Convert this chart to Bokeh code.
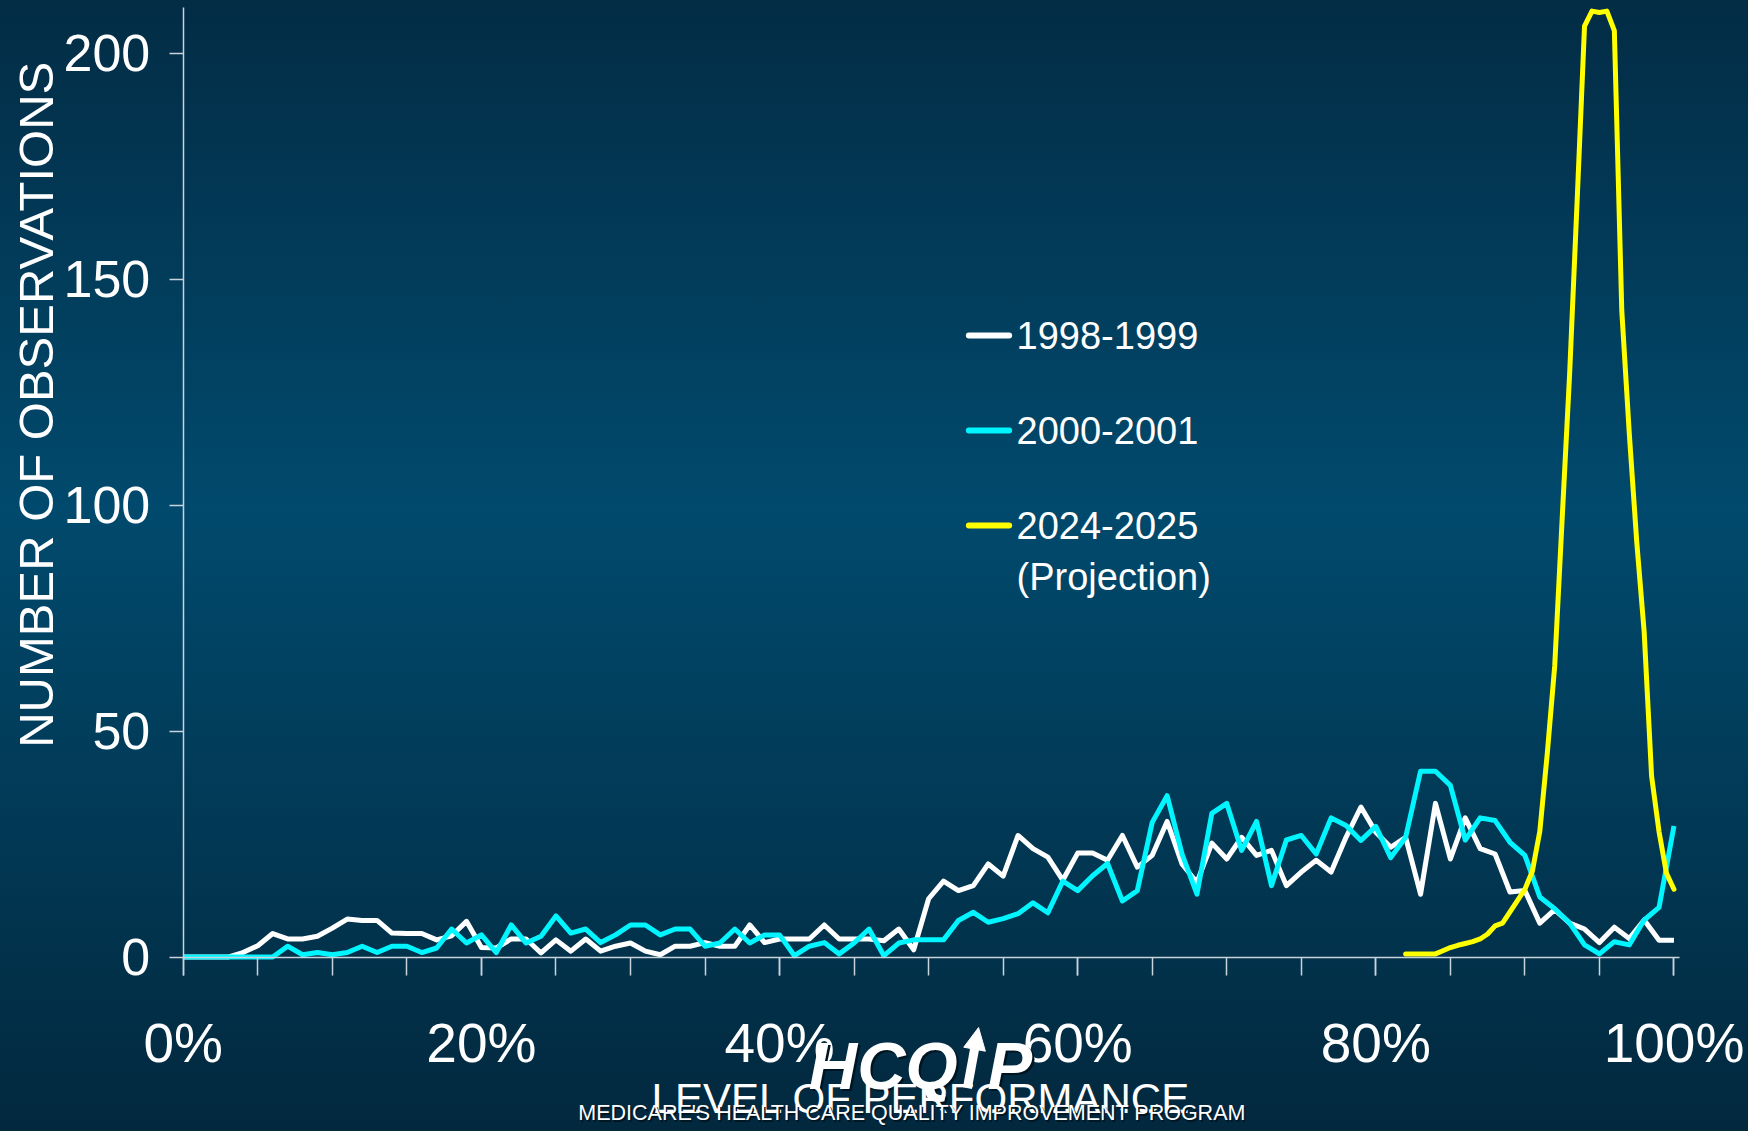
import math

from bokeh.embed import file_html
from bokeh.models import Arrow, FixedTicker, Label, NormalHead, Range1d
from bokeh.plotting import figure
from bokeh.resources import INLINE

# ---------------------------------------------------------------- data
performance = list(range(0, 101))  # level of performance, %

obs_1998_1999 = [
    0, 0, 0, 0, 1.0, 2.5, 5.2, 4.0, 4.0, 4.6,
    6.4, 8.4, 8.1, 8.1, 5.3, 5.2, 5.2, 3.8, 4.7, 7.9,
    2.1, 2.0, 4.0, 4.0, 0.9, 3.8, 1.3, 4.0, 1.3, 2.4,
    3.1, 1.3, 0.5, 2.4, 2.4, 3.2, 2.4, 2.4, 7.1, 3.2,
    4.0, 4.0, 4.0, 7.1, 4.0, 4.0, 4.0, 3.6, 6.2, 1.6,
    12.9, 16.8, 14.7, 15.8, 20.6, 17.9, 26.9, 24.0, 22.1, 17.0,
    23.0, 23.0, 21.4, 26.9, 19.9, 22.5, 30.0, 20.6, 16.5, 25.2,
    21.7, 26.5, 22.5, 23.6, 15.8, 18.8, 21.4, 18.8, 26.5, 33.2,
    27.6, 24.3, 26.5, 13.9, 34.0, 21.7, 30.8, 24.0, 22.8, 14.4,
    14.7, 7.5, 10.5, 7.5, 6.2, 3.2, 6.6, 4.1, 8.2, 3.7,
    3.7,
]

obs_2000_2001 = [
    0, 0, 0, 0, 0, 0, 0, 2.4, 0.5, 1.0,
    0.5, 1.0, 2.4, 1.0, 2.4, 2.4, 1.0, 2.0, 6.2, 3.1,
    4.9, 1.0, 7.1, 3.1, 4.6, 9.1, 5.3, 6.2, 3.2, 4.9,
    7.1, 7.1, 4.9, 6.2, 6.2, 2.4, 3.1, 6.2, 3.1, 4.9,
    4.9, 0.3, 2.4, 3.2, 0.7, 3.1, 6.2, 0.3, 3.1, 3.8,
    3.8, 3.8, 8.1, 9.9, 7.7, 8.5, 9.6, 12.0, 9.8, 16.8,
    14.7, 18.0, 20.7, 12.4, 14.7, 29.8, 35.7, 22.8, 13.9, 31.8,
    34.0, 23.6, 30.0, 15.8, 25.9, 26.9, 22.8, 30.8, 29.1, 25.8,
    28.9, 22.0, 26.5, 41.1, 41.1, 38.0, 25.9, 30.8, 30.2, 25.4,
    22.5, 13.3, 10.7, 7.5, 2.7, 0.7, 3.4, 2.7, 8.2, 11.0,
    29.0,
]

projection_performance = [
    82.0, 82.5, 83.0, 83.5, 84.0, 84.5, 85.0, 85.5, 86.0, 86.5,
    87.0, 87.5, 88.0, 88.5, 89.0, 89.5, 90.0, 90.5, 91.0, 91.5,
    92.0, 92.5, 93.0, 93.5, 94.0, 94.5, 95.0, 95.5, 96.0, 96.5,
    97.0, 97.5, 98.0, 98.5, 99.0, 99.5, 100.0,
]
obs_2024_2025 = [
    0.7, 0.7, 0.7, 0.7, 0.7, 1.4, 2.1, 2.6, 3.0, 3.4,
    4.0, 5.1, 6.9, 7.5, 10.0, 12.5, 15.0, 19.0, 27.8, 45.0,
    64.4, 97.0, 129.0, 167.0, 206.0, 209.3, 209.0, 209.3, 205.0, 143.0,
    116.0, 92.0, 72.0, 40.0, 27.7, 18.5, 15.0,
]

series_labels = ["1998-1999", "2000-2001", "2024-2025"]
projection_note = "(Projection)"

x_ticks = [0, 20, 40, 60, 80, 100]
x_minor_ticks = list(range(0, 101, 5))
y_ticks = [0, 50, 100, 150, 200]

# ---------------------------------------------------------------- styles
FONT = "Liberation Sans"
AXIS_COLOR = "#c9d3dc"
SERIES_COLORS = ["#ffffff", "#00f5ff", "#ffff00"]
LINE_W = 5
SHADOW = "#001522"

# the frame fills the page; the axes sit at the data origin
X_VIEW = (-12.26, 105.0)
Y_VIEW = (-38.6, 211.65)
X_AXIS_SPAN = (0, 100.4)
Y_AXIS_SPAN = (0, 210)

# legend block, in data units
LEGEND_X0, LEGEND_X1 = 52.7, 55.4
LEGEND_TEXT_X = 55.9
LEGEND_ROWS = [137.5, 116.5, 95.5]
PROJECTION_ROW = 84.0

p = figure(
    width=1748, height=1131,
    output_backend="svg", toolbar_location=None,
    x_range=Range1d(*X_VIEW), y_range=Range1d(*Y_VIEW),
    min_border=0,
)
p.border_fill_color = None
p.background_fill_color = None
p.outline_line_color = None
p.xgrid.visible = False
p.ygrid.visible = False
p.styles = {
    "background": "linear-gradient(180deg, #032c45 0%, #014a6d 45%, #02283e 100%)"
}

# x axis: percent labels every 20, ticks every 5
xa = p.xaxis[0]
xa.fixed_location = 0
xa.bounds = X_AXIS_SPAN
xa.ticker = FixedTicker(ticks=x_ticks, minor_ticks=x_minor_ticks)
xa.major_label_overrides = {t: f"{t}%" for t in x_ticks}
xa.axis_line_color = AXIS_COLOR
xa.axis_line_width = 1.5
xa.major_tick_line_color = AXIS_COLOR
xa.minor_tick_line_color = AXIS_COLOR
xa.major_tick_line_width = 1.5
xa.minor_tick_line_width = 1.5
xa.major_tick_in = 0
xa.major_tick_out = 18
xa.minor_tick_in = 0
xa.minor_tick_out = 18
xa.major_label_text_font = FONT
xa.major_label_text_font_size = "55px"
xa.major_label_text_color = "white"
xa.major_label_standoff = 37

# y axis
ya = p.yaxis[0]
ya.fixed_location = 0
ya.bounds = Y_AXIS_SPAN
ya.ticker = FixedTicker(ticks=y_ticks)
ya.axis_line_color = AXIS_COLOR
ya.axis_line_width = 1.5
ya.major_tick_line_color = AXIS_COLOR
ya.major_tick_line_width = 1.5
ya.major_tick_in = 0
ya.major_tick_out = 14
ya.minor_tick_out = 0
ya.minor_tick_in = 0
ya.major_label_text_font = FONT
ya.major_label_text_font_size = "52px"
ya.major_label_text_color = "white"
ya.major_label_standoff = 19

# ---------------------------------------------------------------- series
p.line(performance, obs_1998_1999, line_color=SERIES_COLORS[0],
       line_width=LINE_W, line_join="round")
p.line(performance, obs_2000_2001, line_color=SERIES_COLORS[1],
       line_width=LINE_W, line_join="round")
p.line(projection_performance, obs_2024_2025, line_color=SERIES_COLORS[2],
       line_width=LINE_W, line_join="round", line_cap="round")

# ---------------------------------------------------------------- legend
for label, color, row in zip(series_labels, SERIES_COLORS, LEGEND_ROWS):
    p.line([LEGEND_X0, LEGEND_X1], [row, row], line_color=color,
           line_width=LINE_W + 1, line_cap="round")
    p.add_layout(Label(x=LEGEND_TEXT_X, y=row, text=label,
                       text_font=FONT, text_font_size="38px",
                       text_color="white", text_baseline="middle"))
p.add_layout(Label(x=LEGEND_TEXT_X, y=PROJECTION_ROW, text=projection_note,
                   text_font=FONT, text_font_size="38px",
                   text_color="white", text_baseline="middle"))

# ---------------------------------------------------------------- titles
p.add_layout(Label(x=-9.85, y=122.2, text="NUMBER OF OBSERVATIONS",
                   angle=math.pi / 2, text_align="center",
                   text_baseline="middle", text_font=FONT,
                   text_font_size="49px", text_color="white"))

# HCQIP logo: "HCQ", an upward arrow standing in for the I, then "P"
LOGO_Y = -23.9
LOGO_LEFT_END, LOGO_RIGHT_START = 51.95, 53.95
for dx, dy, col in [(0.15, -0.5, SHADOW), (0, 0, "white")]:
    p.add_layout(Label(x=LOGO_LEFT_END + dx, y=LOGO_Y + dy, text="HCQ",
                       text_align="right", text_baseline="middle",
                       text_font=FONT, text_font_size="67px",
                       text_font_style="bold italic", text_color=col))
    p.add_layout(Label(x=LOGO_RIGHT_START + dx, y=LOGO_Y + dy, text="P",
                       text_align="left", text_baseline="middle",
                       text_font=FONT, text_font_size="67px",
                       text_font_style="bold italic", text_color=col))
p.add_layout(Arrow(
    x_start=52.6, y_start=-29.0, x_end=53.35, y_end=-15.6,
    line_color="white", line_width=9,
    end=NormalHead(size=22, fill_color="white", line_color="white"),
))

p.add_layout(Label(x=49.5, y=-31.3, text="LEVEL OF PERFORMANCE",
                   text_align="center", text_baseline="middle",
                   text_font=FONT, text_font_size="42px",
                   text_color="white"))

for dx, dy, col in [(0.1, -0.35, SHADOW), (0, 0, "white")]:
    p.add_layout(Label(x=48.9 + dx, y=-34.6 + dy,
                       text="MEDICARE'S HEALTH CARE QUALITY IMPROVEMENT PROGRAM",
                       text_align="center", text_baseline="middle",
                       text_font=FONT, text_font_size="21.5px",
                       text_color=col))

with open("out.html", "w") as f:
    f.write(file_html(p, INLINE))
